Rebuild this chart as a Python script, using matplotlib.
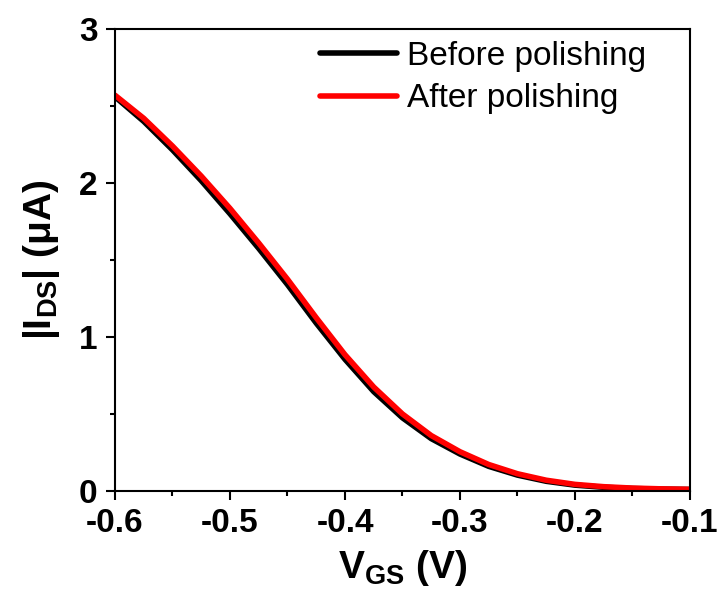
import matplotlib
matplotlib.use("Agg")
import matplotlib.pyplot as plt
from matplotlib.ticker import MultipleLocator, FormatStrFormatter

plt.rcParams['font.family'] = ['Liberation Sans', 'DejaVu Sans']
plt.rcParams['mathtext.default'] = 'regular'

vgs = [-0.600, -0.575, -0.550, -0.525, -0.500, -0.475, -0.450, -0.425, -0.400, -0.375,
       -0.350, -0.325, -0.300, -0.275, -0.250, -0.225, -0.200, -0.175, -0.150, -0.125, -0.100]
ids_before = [2.56, 2.40, 2.215, 2.015, 1.80, 1.575, 1.34, 1.09, 0.855, 0.645,
              0.475, 0.34, 0.24, 0.16, 0.103, 0.063, 0.038, 0.024, 0.016, 0.012, 0.010]
ids_after = [2.57, 2.42, 2.24, 2.045, 1.835, 1.61, 1.375, 1.125, 0.885, 0.675,
             0.50, 0.36, 0.255, 0.172, 0.112, 0.070, 0.043, 0.028, 0.019, 0.014, 0.011]

fig = plt.figure(figsize=(7.22, 6.06), dpi=100)
ax = fig.add_axes([115/722, 1 - 491/606, 575/722, 462/606])

line_kw = dict(lw=4, solid_joinstyle='round', solid_capstyle='round')
ax.plot(vgs, ids_before, color='black', label='Before polishing', **line_kw)
ax.plot(vgs, ids_after, color='red', label='After polishing', **line_kw)

ax.set_xlim(-0.6, -0.1)
ax.set_ylim(0, 3)
ax.xaxis.set_major_locator(MultipleLocator(0.1))
ax.xaxis.set_minor_locator(MultipleLocator(0.05))
ax.xaxis.set_major_formatter(FormatStrFormatter('%.1f'))
ax.yaxis.set_major_locator(MultipleLocator(1))
ax.yaxis.set_minor_locator(MultipleLocator(0.5))

for s in ax.spines.values():
    s.set_linewidth(1.5)
ax.tick_params(which='major', direction='out', length=6.5, width=1.5, pad=6,
               labelsize=24)
ax.tick_params(which='minor', direction='out', length=3.5, width=1.5)
for lab in ax.get_xticklabels() + ax.get_yticklabels():
    lab.set_fontweight('bold')

ax.set_xlabel('V$_{GS}$ (V)', fontsize=28, fontweight='bold', labelpad=6)
ax.set_ylabel('|I$_{DS}$| (μA)', fontsize=28, fontweight='bold', labelpad=12)

ax.legend(loc='upper left', bbox_to_anchor=(0.357, 0.975), frameon=False,
          fontsize=24, handlelength=2.3, handletextpad=0.3, labelspacing=0.35,
          borderpad=0, borderaxespad=0)

fig.savefig('out.png', dpi=100)
